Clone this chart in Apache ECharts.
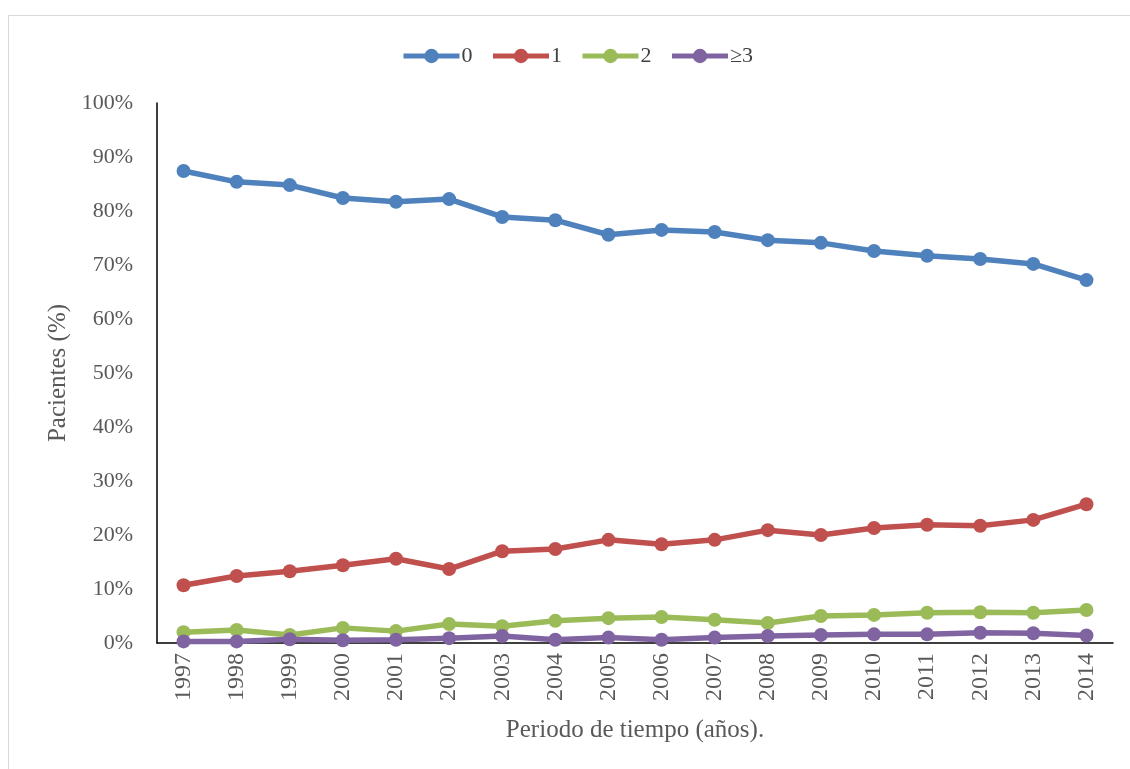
<!DOCTYPE html>
<html>
<head>
<meta charset="utf-8">
<script src="https://cdn.jsdelivr.net/npm/echarts@6/dist/echarts.min.js"></script>
<style>
html, body { margin: 0; padding: 0; background: #fff; }
#main { width: 1130px; height: 769px; }
</style>
</head>
<body>
<div id="main"></div>
<script>
var years = ['1997','1998','1999','2000','2001','2002','2003','2004','2005','2006','2007','2008','2009','2010','2011','2012','2013','2014'];
var s0 = [87.4, 85.4, 84.8, 82.4, 81.7, 82.2, 78.9, 78.3, 75.6, 76.5, 76.1, 74.6, 74.1, 72.6, 71.7, 71.1, 70.2, 67.2];
var s1 = [10.7, 12.4, 13.3, 14.4, 15.6, 13.7, 17.0, 17.4, 19.1, 18.3, 19.1, 20.9, 20.0, 21.3, 21.9, 21.7, 22.8, 25.7];
var s2 = [2.0, 2.4, 1.5, 2.8, 2.2, 3.5, 3.1, 4.1, 4.6, 4.8, 4.3, 3.7, 5.0, 5.2, 5.6, 5.7, 5.6, 6.1];
var s3 = [0.3, 0.3, 0.7, 0.5, 0.6, 0.9, 1.3, 0.6, 1.0, 0.6, 1.0, 1.3, 1.5, 1.6, 1.6, 1.9, 1.8, 1.4];
var names = ['0', '1', '2', '≥3'];
var colors = ['#4f81bd', '#c0504d', '#9bbb59', '#8064a2'];

(function(){
	var myChart = echarts.init(document.getElementById('main'));
	var font = '"Liberation Serif", "Times New Roman", serif';

	function line(i, data) {
		return {
			name: names[i],
			type: 'line',
			data: data,
			symbol: 'circle',
			symbolSize: 14,
			lineStyle: { width: 5.5, color: colors[i] },
			itemStyle: { color: colors[i] },
			emphasis: { disabled: true }
		};
	}

	var option = {
		animation: false,
		textStyle: { fontFamily: font },
		graphic: [{
			type: 'rect',
			shape: { x: 8.5, y: 15.5, width: 1140, height: 800 },
			style: { fill: 'none', stroke: '#d9d9d9', lineWidth: 1 }
		}],
		legend: {
			data: names,
			top: 40,
			left: 396,
			itemWidth: 56,
			itemHeight: 18,
			itemGap: 18,
			lineStyle: { width: 5 },
			textStyle: { fontFamily: font, fontSize: 22, color: '#404040', padding: [0, 0, 0, -3] }
		},
		grid: { left: 157, right: 17, top: 103, bottom: 126, containLabel: false },
		xAxis: {
			type: 'category',
			data: years,
			boundaryGap: true,
			name: 'Periodo de tiempo (años).',
			nameLocation: 'middle',
			nameGap: 75,
			nameTextStyle: { fontFamily: font, fontSize: 25, color: '#595959' },
			axisLine: { lineStyle: { color: '#000', width: 1.5 } },
			axisTick: { show: false },
			axisLabel: { rotate: 90, fontFamily: font, fontSize: 24, color: '#595959', margin: 10 }
		},
		yAxis: {
			type: 'value',
			min: 0,
			max: 100,
			interval: 10,
			name: 'Pacientes (%)',
			nameLocation: 'middle',
			nameGap: 84,
			nameTextStyle: { fontFamily: font, fontSize: 25, color: '#595959' },
			axisLine: { show: true, lineStyle: { color: '#000', width: 1.5 } },
			axisTick: { show: false },
			splitLine: { show: false },
			axisLabel: { formatter: '{value}%', fontFamily: font, fontSize: 22, color: '#595959', margin: 24 }
		},
		series: [line(0, s0), line(1, s1), line(2, s2), line(3, s3)]
	};
	myChart.setOption(option);
})();
</script>
</body>
</html>
